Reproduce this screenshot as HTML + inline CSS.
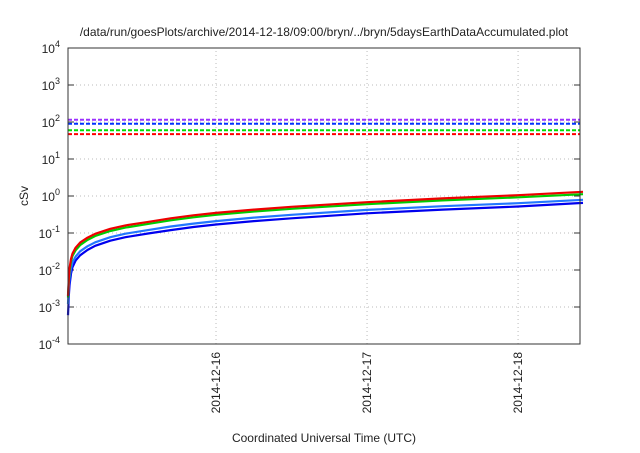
<!DOCTYPE html>
<html><head><meta charset="utf-8"><style>
body{margin:0;background:#fff;font-family:"Liberation Sans",sans-serif}
svg text{font-family:"Liberation Sans",sans-serif;fill:#222}
</style></head><body>
<svg id="chart" width="640" height="448" viewBox="0 0 640 448" xmlns="http://www.w3.org/2000/svg">
<text x="324" y="36" font-size="12" text-anchor="middle">/data/run/goesPlots/archive/2014-12-18/09:00/bryn/../bryn/5daysEarthDataAccumulated.plot</text>
<text transform="translate(28,196) rotate(-90)" font-size="12" text-anchor="middle">cSv</text>
<text x="324" y="442" font-size="12" text-anchor="middle">Coordinated Universal Time (UTC)</text>
<g id="grid"></g><g id="ticks"></g><g id="series"></g>
<rect x="68" y="48" width="512" height="296" fill="none" stroke="#333" stroke-width="1"/>
</svg>
<script>
const yTickExps=[-4,-3,-2,-1,0,1,2,3,4];
const xTickDays=[1,2,3];
const xTickLabels=["2014-12-16","2014-12-17","2014-12-18"];
const times=[0.02,0.025,0.03,0.04,0.05,0.07,0.1,0.15,0.2,0.3,0.4,0.55,0.7,0.85,1,1.25,1.5,2,2.5,3,3.43];
const redVals=[0.002,0.006,0.011,0.02,0.028,0.04,0.055,0.075,0.095,0.13,0.16,0.2,0.25,0.3,0.35,0.43,0.51,0.68,0.86,1.05,1.3];
const greenVals=[0.0018,0.005,0.009,0.017,0.024,0.034,0.047,0.065,0.083,0.113,0.14,0.176,0.22,0.265,0.31,0.38,0.45,0.6,0.76,0.92,1.12];
const lightBlueVals=[0.0012,0.0035,0.006,0.011,0.016,0.023,0.032,0.044,0.056,0.077,0.096,0.12,0.15,0.18,0.21,0.26,0.31,0.42,0.53,0.64,0.79];
const blueVals=[0.0006,0.002,0.0038,0.008,0.012,0.018,0.025,0.035,0.045,0.062,0.077,0.097,0.12,0.145,0.17,0.21,0.25,0.34,0.43,0.52,0.65];
const thresholds=[115,90,60,47];
const thresholdColors=["#9b30ff","#0033ff","#00dd00","#ff0000"];
const X0=68,X1=580,Y0=344,Y1=48,TMIN=0.02,TMAX=3.41;
const xs=t=>X0+(t-TMIN)/(TMAX-TMIN)*(X1-X0);
const ys=v=>Y0-(Math.log10(v)+4)/8*(Y0-Y1);
const NS="http://www.w3.org/2000/svg";
function mk(tag,attrs,parent){const e=document.createElementNS(NS,tag);for(const k in attrs)e.setAttribute(k,attrs[k]);document.getElementById(parent).appendChild(e);return e;}
yTickExps.forEach(p=>{
  const y=ys(Math.pow(10,p));
  if(p>-4&&p<4){const g=mk("line",{x1:X0,x2:X1,y1:y,y2:y,stroke:"#bbb","stroke-dasharray":"1,3"},"grid");
  
  }
  const t=mk("text",{x:X0-8,y:y+5,"font-size":"12","text-anchor":"end"},"ticks");
  
  
  t.innerHTML='10<tspan dy="-6" font-size="9">'+p+'</tspan>';
  const tk=mk("line",{x1:X0,x2:X0+6,y1:y,y2:y,stroke:"#333"},"ticks");
  
  
  const tk2=mk("line",{x1:X1-6,x2:X1,y1:y,y2:y,stroke:"#333"},"ticks");
  
  
});
xTickDays.forEach((d,i)=>{
  const x=xs(d);
  const g=mk("line",{x1:x,x2:x,y1:Y0,y2:Y1,stroke:"#bbb","stroke-dasharray":"1,3"},"grid");
  
  
  const t=mk("text",{transform:`translate(${x+4},${Y0+8}) rotate(-90)`,"font-size":"12","text-anchor":"end"},"ticks");
  
  
  t.textContent=xTickLabels[i];
});
thresholds.forEach((v,i)=>{
  const y=ys(v);
  const l=mk("line",{x1:X0,x2:X1,y1:y,y2:y,stroke:thresholdColors[i],"stroke-width":"2","stroke-dasharray":"4,2"},"series");
  
  
});
[[blueVals,"#0000ee"],[lightBlueVals,"#2277ff"],[greenVals,"#00cc00"],[redVals,"#ee0000"]].forEach(([vals,c])=>{
  const pts=times.map((t,i)=>xs(t).toFixed(1)+","+ys(vals[i]).toFixed(1)).join(" ");
  const p=mk("polyline",{points:pts,fill:"none",stroke:c,"stroke-width":"2.2","stroke-linejoin":"round"},"series");
  
  
});
</script>
</body></html>
